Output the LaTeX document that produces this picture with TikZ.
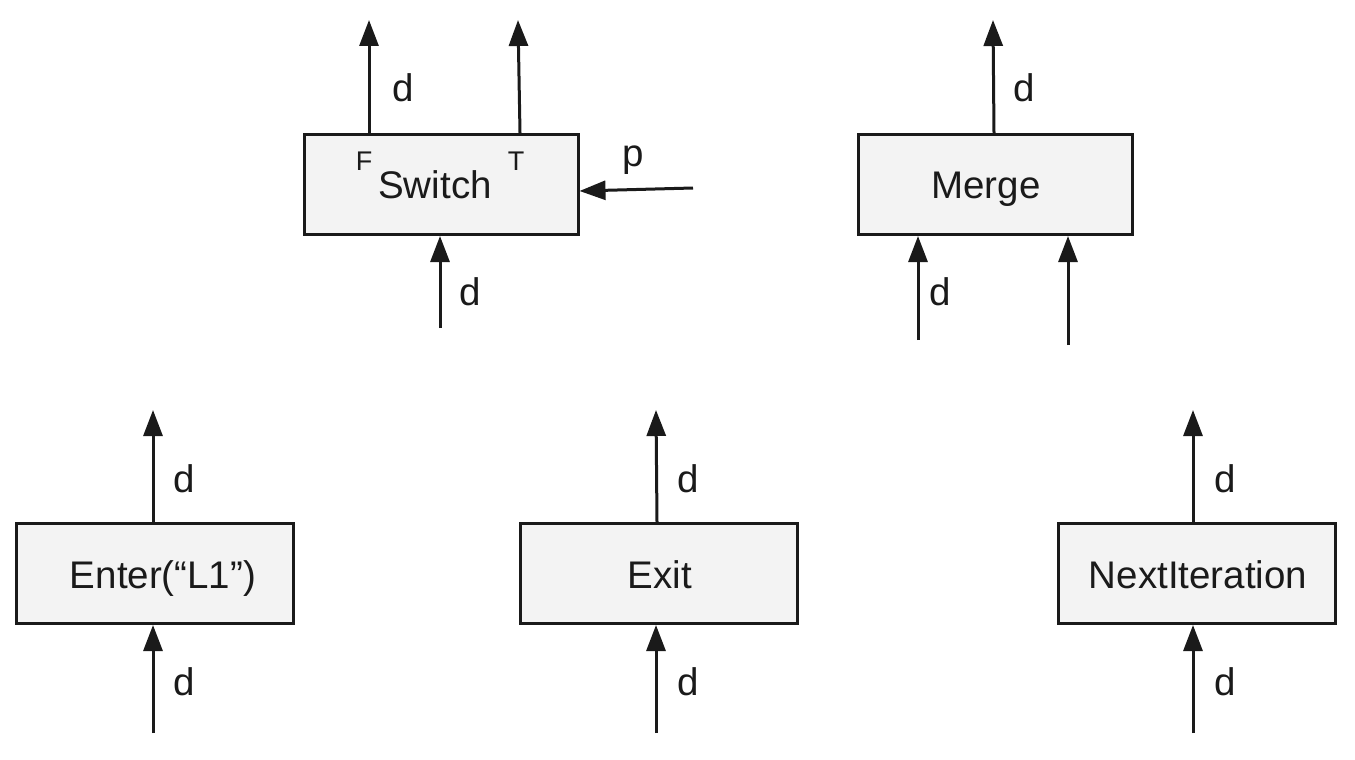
\documentclass[tikz,border=0pt]{standalone}
\usepackage{fontspec}
\setmainfont{Liberation Sans}
\usetikzlibrary{arrows.meta}
\definecolor{boxfill}{HTML}{F3F3F3}
\definecolor{ink}{HTML}{1A1A1A}
\begin{document}
\begin{tikzpicture}[x=1pt,y=-1pt,
  opbox/.style={draw=ink,fill=boxfill,line width=3pt,minimum width=274pt,minimum height=100pt,inner sep=0pt},
  optext/.style={anchor=base,inner sep=0pt,text=ink,font=\fontsize{38.5}{42}\selectfont},
  lbl/.style={anchor=base,inner sep=0pt,text=ink,font=\fontsize{38.5}{42}\selectfont},
  small/.style={anchor=base,inner sep=0pt,text=ink,font=\fontsize{27}{30}\selectfont},
  arr/.style={draw=ink,line width=3pt,-{Triangle[length=26pt,width=19pt]}}]
\useasboundingbox (0,0) rectangle (1355,760);
% boxes
\node[opbox] (switch) at (441,184.5) {};
\node[opbox] (merge) at (995,184.5) {};
\node[opbox,minimum width=277pt] (enter) at (154.5,573.5) {};
\node[opbox,minimum width=277pt] (exit) at (658.5,573.5) {};
\node[opbox,minimum width=277pt] (next) at (1196.5,573.5) {};
% box texts
\node[optext] (switch-t) at (435,198) {Switch};
\node[small] (switch-f) at (364,170) {F};
\node[small] (switch-tt) at (516,170) {T};
\node[optext] (merge-t) at (986,198) {Merge};
\node[optext] (enter-t) at (163,588) {Enter(“L1”)};
\node[optext] (exit-t) at (660,588) {Exit};
\node[optext] (next-t) at (1198,588) {NextIteration};
% free ends
\coordinate (swF) at (369,20);
\coordinate (swT) at (518,20);
\coordinate (swP) at (693,188);
\coordinate (swIn) at (440,328);
\coordinate (mgOut) at (993,20);
\coordinate (mgInA) at (918,340);
\coordinate (mgInB) at (1068,345);
\coordinate (enOut) at (153,410);
\coordinate (enIn) at (153,733);
\coordinate (exOut) at (656,410);
\coordinate (exIn) at (656,733);
\coordinate (nxOut) at (1193,410);
\coordinate (nxIn) at (1193,733);
% connectors
\draw[arr] (switch.north -| swF) -- (swF);
\draw[arr] ([xshift=2pt]switch.north -| swT) -- (swT);
\draw[arr] (swP) -- ([yshift=-3pt]switch.east |- swP);
\draw[arr] (swIn) -- (switch.south -| swIn);
\draw[arr] ([xshift=1pt]merge.north -| mgOut) -- (mgOut);
\draw[arr] (mgInA) -- (merge.south -| mgInA);
\draw[arr] (mgInB) -- (merge.south -| mgInB);
\draw[arr] (enter.north -| enOut) -- (enOut);
\draw[arr] (enIn) -- (enter.south -| enIn);
\draw[arr] ([xshift=1pt]exit.north -| exOut) -- (exOut);
\draw[arr] (exIn) -- (exit.south -| exIn);
\draw[arr] (next.north -| nxOut) -- (nxOut);
\draw[arr] (nxIn) -- (next.south -| nxIn);
% labels
\node[lbl] (l1) at (403,102) {d};
\node[lbl] (l2) at (633,166) {p};
\node[lbl] (l3) at (470,305) {d};
\node[lbl] (l4) at (1024,102) {d};
\node[lbl] (l5) at (940,305) {d};
\node[lbl] (l6) at (184,492) {d};
\node[lbl] (l7) at (184,695) {d};
\node[lbl] (l8) at (688,492) {d};
\node[lbl] (l9) at (688,695) {d};
\node[lbl] (l10) at (1225,492) {d};
\node[lbl] (l11) at (1225,695) {d};
\end{tikzpicture}
\end{document}
